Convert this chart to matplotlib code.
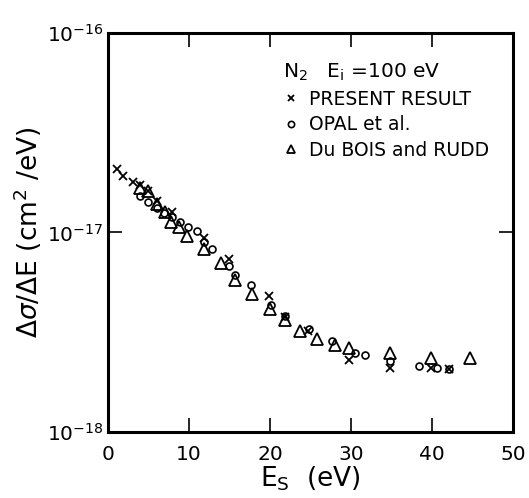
import matplotlib
matplotlib.use("Agg")
import matplotlib.pyplot as plt
from matplotlib.ticker import FixedLocator, FixedFormatter, NullLocator

# PRESENT RESULT (x)
present_E = [1.1, 1.9, 3.1, 3.9, 5.0, 6.1, 7.9, 11.8, 15.0, 19.9, 21.8, 24.7, 29.7, 34.8, 39.9, 42.1]
present_S = [2.08e-17, 1.91e-17, 1.79e-17, 1.72e-17, 1.62e-17, 1.44e-17, 1.26e-17, 9.4e-18,
             7.35e-18, 4.83e-18, 3.76e-18, 3.19e-18, 2.30e-18, 2.10e-18, 2.09e-18, 2.07e-18]

# OPAL et al. (o)
opal_E = [4.0, 5.0, 6.0, 6.9, 7.9, 8.9, 9.9, 11.0, 11.9, 12.9, 15.0, 15.7, 17.6, 20.1, 21.8,
          24.8, 27.6, 30.5, 31.7, 34.8, 38.4, 40.6, 42.1]
opal_S = [1.53e-17, 1.42e-17, 1.33e-17, 1.25e-17, 1.20e-17, 1.13e-17, 1.06e-17, 1.02e-17, 9.0e-18,
          8.28e-18, 6.76e-18, 6.13e-18, 5.47e-18, 4.34e-18, 3.8e-18,
          3.29e-18, 2.85e-18, 2.50e-18, 2.42e-18, 2.26e-18, 2.15e-18, 2.09e-18, 2.07e-18]

# Du BOIS and RUDD (triangles)
dubois_E = [4.0, 5.0, 6.1, 7.05, 7.75, 8.8, 9.8, 11.8, 13.9, 15.7, 17.8, 20.0, 21.8,
            23.7, 25.8, 28.0, 29.7, 34.8, 39.9, 44.7]
dubois_S = [1.67e-17, 1.61e-17, 1.39e-17, 1.27e-17, 1.13e-17, 1.06e-17, 9.55e-18, 8.28e-18,
            7.02e-18, 5.79e-18, 4.91e-18, 4.13e-18, 3.65e-18,
            3.22e-18, 2.93e-18, 2.73e-18, 2.63e-18, 2.48e-18, 2.36e-18, 2.36e-18]

x_ticks = [0, 10, 20, 30, 40, 50]
y_ticks = [1e-18, 1e-17, 1e-16]
y_tick_labels = [r"$10^{-18}$", r"$10^{-17}$", r"$10^{-16}$"]

plt.rcParams['font.family'] = ['DejaVu Sans']
plt.rcParams['mathtext.fontset'] = 'dejavusans'

fig = plt.figure(figsize=(5.29, 4.98), dpi=100)
ax = fig.add_axes([0.204, 0.1325, 0.766, 0.8015])

ax.plot(present_E, present_S, linestyle='none', marker='x', markersize=5.5, mew=1.3,
        color='black', label='PRESENT RESULT')
ax.plot(opal_E, opal_S, linestyle='none', marker='o', markersize=5, mew=1.2,
        mfc='none', color='black', label='OPAL et al.')
ax.plot(dubois_E, dubois_S, linestyle='none', marker='^', markersize=8, mew=1.3,
        mfc='none', color='black', label='Du BOIS and RUDD')

ax.set_yscale('log')
ax.set_xlim(0, 50)
ax.set_ylim(1e-18, 1e-16)

ax.xaxis.set_major_locator(FixedLocator(x_ticks))
ax.yaxis.set_major_locator(FixedLocator(y_ticks))
ax.yaxis.set_major_formatter(FixedFormatter(y_tick_labels))
ax.yaxis.set_minor_locator(NullLocator())
ax.xaxis.set_minor_locator(NullLocator())

ax.tick_params(axis='both', which='major', direction='in', length=10, width=1.2,
               top=True, right=True, labelsize=14.5, colors='black')
ax.tick_params(axis='x', pad=9)
ax.tick_params(axis='y', pad=3)
for s in ax.spines.values():
    s.set_linewidth(2.2)

ax.set_xlabel(r"E$_\mathregular{S}$  (eV)", fontsize=19, labelpad=1)
ax.set_ylabel(r"$\Delta\sigma$/$\Delta$E (cm$^2$ /eV)", fontsize=19, labelpad=2)

leg = ax.legend(loc='upper left', bbox_to_anchor=(0.40, 0.96), frameon=False,
                fontsize=13.5, handlelength=0.8, handletextpad=0.6, labelspacing=0.35,
                title=r"N$_2$   E$_\mathregular{i}$ =100 eV", title_fontsize=14.5,
                alignment='left', borderpad=0.2)
leg.legend_handles[0].set_markersize(5)
leg.legend_handles[1].set_markersize(4.5)
leg.legend_handles[2].set_markersize(6)

fig.savefig("out.png", dpi=100)
